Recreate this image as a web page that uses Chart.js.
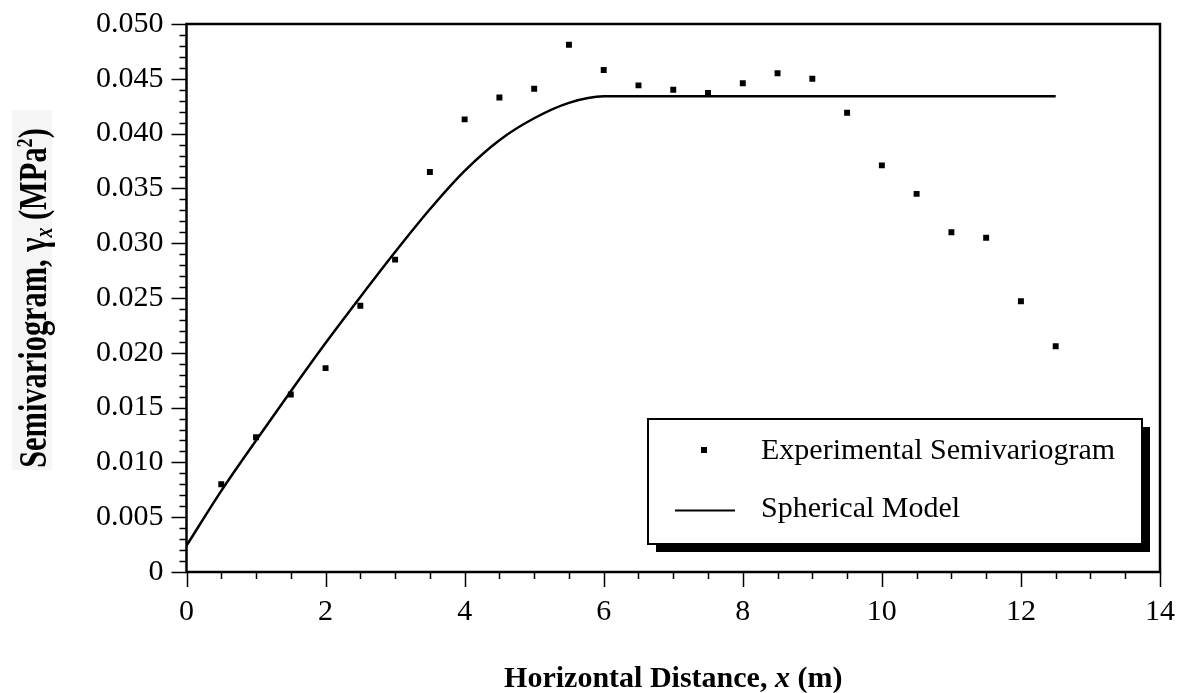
<!DOCTYPE html>
<html>
<head>
<meta charset="utf-8">
<script src="https://cdn.jsdelivr.net/npm/chart.js@4.4.0/dist/chart.umd.min.js"></script>
<style>
  html, body { margin: 0; padding: 0; background: #fff; }
  #wrap { width: 1186px; height: 693px; }
</style>
</head>
<body>
<div id="wrap"><canvas id="semivariogramChart"></canvas></div>
<script>
// experimental semivariogram (lag distance in m, gamma in MPa^2)
const lagDistance = [0.5, 1, 1.5, 2, 2.5, 3, 3.5, 4, 4.5, 5, 5.5, 6, 6.5, 7, 7.5, 8, 8.5, 9, 9.5, 10, 10.5, 11, 11.5, 12, 12.5];
const experimentalGamma = [0.0080, 0.0123, 0.0162, 0.0186, 0.0243, 0.0285, 0.0365, 0.0413, 0.0433, 0.0441, 0.0481, 0.0458, 0.0444, 0.0440, 0.0437, 0.0446, 0.0455, 0.0450, 0.0419, 0.0371, 0.0345, 0.0310, 0.0305, 0.0247, 0.0206];

// spherical model
const modelDistance = [0, 0.5, 1, 1.5, 2, 2.5, 3, 3.5, 4, 4.5, 5, 5.5, 6, 12.5];
const modelGamma = [0.0024, 0.0074, 0.0120, 0.0165, 0.0209, 0.0251, 0.0292, 0.0331, 0.0366, 0.0394, 0.0414, 0.0428, 0.0434, 0.0434];

const xTickLabels = [0, 2, 4, 6, 8, 10, 12, 14];
const yTickLabels = [0, 0.005, 0.010, 0.015, 0.020, 0.025, 0.030, 0.035, 0.040, 0.045, 0.050];

const legendLabels = ['Experimental Semivariogram', 'Spherical Model'];

const serif = '"Liberation Serif", "Times New Roman", serif';

// draws frame, tick marks, axis titles and the boxed legend
const decorations = {
  id: 'decorations',
  afterDraw(chart) {
    const ctx = chart.ctx;
    const area = chart.chartArea;
    const xs = chart.scales.x;
    const ys = chart.scales.y;
    ctx.save();
    ctx.strokeStyle = '#000';
    ctx.fillStyle = '#000';

    // ticks
    ctx.lineWidth = 1.5;
    for (let i = 0; i <= 50; i++) {
      const py = Math.round(ys.getPixelForValue(i / 1000)) + 0.5;
      const len = i % 5 === 0 ? 15 : 7;
      ctx.beginPath();
      ctx.moveTo(area.left - len, py);
      ctx.lineTo(area.left, py);
      ctx.stroke();
    }
    for (let i = 0; i <= 28; i++) {
      const px = Math.round(xs.getPixelForValue(i * 0.5)) + 0.5;
      const len = i % 4 === 0 ? 15 : 7;
      ctx.beginPath();
      ctx.moveTo(px, area.bottom);
      ctx.lineTo(px, area.bottom + len);
      ctx.stroke();
    }

    // frame
    ctx.lineWidth = 2.5;
    ctx.strokeRect(area.left, area.top, area.right - area.left, area.bottom - area.top);

    // x title
    const xParts = [
      { t: 'Horizontal Distance, ', f: 'bold 30px ' + serif },
      { t: 'x', f: 'italic bold 30px ' + serif },
      { t: ' (m)', f: 'bold 30px ' + serif }
    ];
    let w = 0;
    xParts.forEach(p => { ctx.font = p.f; w += ctx.measureText(p.t).width; });
    let cx = (area.left + area.right) / 2 - w / 2;
    ctx.textBaseline = 'alphabetic';
    ctx.textAlign = 'left';
    xParts.forEach(p => { ctx.font = p.f; ctx.fillText(p.t, cx, 687); cx += ctx.measureText(p.t).width; });

    // y title (condensed, on a faint grey panel)
    ctx.fillStyle = '#f5f5f5';
    ctx.fillRect(12, 110, 40, 360);
    ctx.fillStyle = '#000';
    const yParts = [
      { t: 'Semivariogram, \u03b3', f: 'bold 40px ' + serif, dy: 0 },
      { t: 'x', f: 'italic bold 26px ' + serif, dy: 6 },
      { t: ' (MPa', f: 'bold 40px ' + serif, dy: 0 },
      { t: '2', f: 'bold 24px ' + serif, dy: -14 },
      { t: ')', f: 'bold 40px ' + serif, dy: 0 }
    ];
    w = 0;
    yParts.forEach(p => { ctx.font = p.f; w += ctx.measureText(p.t).width; });
    ctx.save();
    ctx.translate(46, (area.top + area.bottom) / 2);
    ctx.rotate(-Math.PI / 2);
    ctx.scale(0.76, 1);
    cx = -w / 2;
    yParts.forEach(p => { ctx.font = p.f; ctx.fillText(p.t, cx, p.dy); cx += ctx.measureText(p.t).width; });
    ctx.restore();

    // legend box with drop shadow
    const lx = 648, ly = 419, lw = 494, lh = 125;
    ctx.fillStyle = '#000';
    ctx.fillRect(lx + 8, ly + 8, lw, lh);
    ctx.fillStyle = '#fff';
    ctx.fillRect(lx, ly, lw, lh);
    ctx.lineWidth = 2;
    ctx.strokeRect(lx, ly, lw, lh);
    ctx.fillStyle = '#000';
    ctx.fillRect(701, 447, 6, 6);
    ctx.beginPath();
    ctx.moveTo(675, 510.5);
    ctx.lineTo(735, 510.5);
    ctx.stroke();
    ctx.font = '30px ' + serif;
    ctx.textBaseline = 'middle';
    ctx.fillText(legendLabels[0], 761, 451);
    ctx.fillText(legendLabels[1], 761, 509);
    ctx.restore();
  }
};

new Chart(document.getElementById('semivariogramChart'), {
  type: 'scatter',
  data: {
    datasets: [
      {
        label: legendLabels[0],
        data: lagDistance.map((x, i) => ({ x: x, y: experimentalGamma[i] })),
        pointStyle: 'rect',
        pointRadius: 4.2,
        pointBackgroundColor: '#000',
        pointBorderWidth: 0,
        showLine: false
      },
      {
        label: legendLabels[1],
        data: modelDistance.map((x, i) => ({ x: x, y: modelGamma[i] })),
        showLine: true,
        borderColor: '#000',
        borderWidth: 2.5,
        pointRadius: 0,
        cubicInterpolationMode: 'monotone',
        fill: false
      }
    ]
  },
  options: {
    responsive: true,
    maintainAspectRatio: false,
    animation: false,
    layout: { padding: { top: 24, right: 26, left: 0, bottom: 0 } },
    plugins: {
      legend: { display: false },
      tooltip: { enabled: false }
    },
    scales: {
      x: {
        type: 'linear',
        min: 0,
        max: 14,
        afterFit: s => { s.height = 121; s.paddingLeft = 0; s.paddingRight = 0; },
        afterBuildTicks: s => { s.ticks = xTickLabels.map(v => ({ value: v })); },
        grid: { display: false, drawTicks: false },
        border: { display: false },
        ticks: {
          color: '#000',
          font: { family: serif, size: 30 },
          padding: 22,
          maxRotation: 0,
          autoSkip: false
        }
      },
      y: {
        min: 0,
        max: 0.05,
        afterFit: s => { s.width = 186.5; s.paddingTop = 0; s.paddingBottom = 0; },
        afterBuildTicks: s => { s.ticks = yTickLabels.map(v => ({ value: v })); },
        grid: { display: false, drawTicks: false },
        border: { display: false },
        ticks: {
          color: '#000',
          font: { family: serif, size: 30 },
          padding: 23,
          autoSkip: false,
          callback: v => v === 0 ? '0' : v.toFixed(3)
        }
      }
    }
  },
  plugins: [decorations]
});
</script>
</body>
</html>
